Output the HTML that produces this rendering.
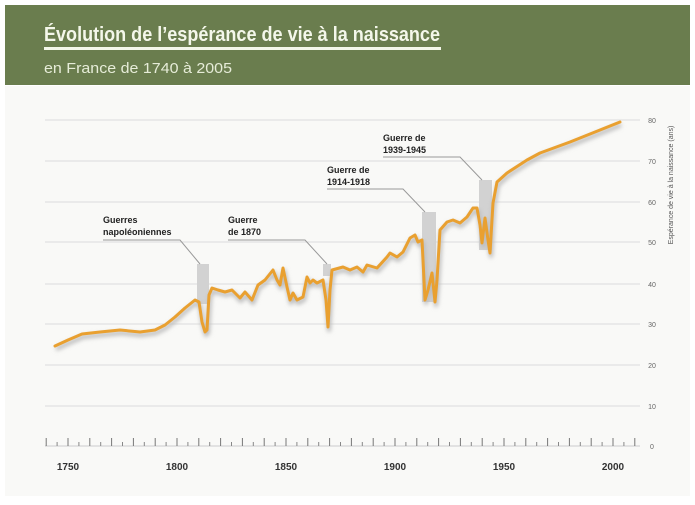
<!DOCTYPE html>
<html><head><meta charset="utf-8"><style>
body{margin:0;background:#fff;width:695px;height:500px;overflow:hidden;font-family:"Liberation Sans",sans-serif}
</style></head><body>
<svg width="695" height="500" xmlns="http://www.w3.org/2000/svg" font-family="Liberation Sans, sans-serif">
<defs><filter id="sh" x="-5%" y="-5%" width="110%" height="120%"><feGaussianBlur stdDeviation="2"/></filter></defs>
<rect x="0" y="0" width="695" height="500" fill="#fff"/>
<rect x="5" y="86" width="685" height="410" fill="#f9f9f7"/>
<rect x="5" y="5" width="685" height="80" fill="#6a7d4e"/>
<text x="44" y="41" font-size="20" font-weight="bold" fill="#f4f7ea" textLength="396" lengthAdjust="spacingAndGlyphs">Évolution de l’espérance de vie à la naissance</text>
<rect x="44" y="47" width="397" height="3" fill="#f4f7ea"/>
<text x="44" y="73" font-size="15" fill="#e6ecd8" textLength="188" lengthAdjust="spacingAndGlyphs">en France de 1740 à 2005</text>
<g stroke="#dcdcdc" stroke-width="1">
<line x1="45" y1="120" x2="640" y2="120"/><line x1="45" y1="161" x2="640" y2="161"/>
<line x1="45" y1="202" x2="640" y2="202"/><line x1="45" y1="242" x2="640" y2="242"/>
<line x1="45" y1="284" x2="640" y2="284"/><line x1="45" y1="324" x2="640" y2="324"/>
<line x1="45" y1="365" x2="640" y2="365"/><line x1="45" y1="406" x2="640" y2="406"/>
</g>
<g font-size="7" fill="#666" text-anchor="middle">
<text x="652" y="123">80</text><text x="652" y="164">70</text><text x="652" y="205">60</text><text x="652" y="245">50</text>
<text x="652" y="287">40</text><text x="652" y="327">30</text><text x="652" y="368">20</text><text x="652" y="409">10</text><text x="652" y="449">0</text>
</g>
<text transform="translate(673,185) rotate(-90)" font-size="7" fill="#555" text-anchor="middle">Espérance de vie à la naissance (ans)</text>
<line x1="45" y1="446" x2="640" y2="446" stroke="#ccc"/>
<line x1="45.7" y1="442" x2="640" y2="442" stroke="#777" stroke-width="8" stroke-dasharray="1 20.8"/>
<line x1="56.6" y1="444" x2="640" y2="444" stroke="#888" stroke-width="4" stroke-dasharray="1 20.8"/>
<g font-size="10" font-weight="bold" fill="#333" text-anchor="middle">
<text x="68" y="470">1750</text><text x="177" y="470">1800</text><text x="286" y="470">1850</text>
<text x="395" y="470">1900</text><text x="504" y="470">1950</text><text x="613" y="470">2000</text>
</g>
<g fill="#d2d2d2">
<rect x="197" y="264" width="12" height="40"/><rect x="323" y="264" width="8" height="12"/>
<rect x="422" y="212" width="14" height="90"/><rect x="479" y="180" width="13" height="70"/>
</g>
<g stroke="#999" fill="none" stroke-width="1">
<polyline points="103,240 180,240 200,264"/><polyline points="228,240 305,240 327,264"/>
<polyline points="327,189 403,189 425,212"/><polyline points="383,157 460,157 482,180"/>
</g>
<g font-size="9" font-weight="bold" fill="#222">
<text x="103" y="223">Guerres</text><text x="103" y="235">napoléoniennes</text>
<text x="228" y="223">Guerre</text><text x="228" y="235">de 1870</text>
<text x="327" y="173">Guerre de</text><text x="327" y="185">1914-1918</text>
<text x="383" y="141">Guerre de</text><text x="383" y="153">1939-1945</text>
</g>
<g id="ln">
<polyline fill="none" stroke="#bbb" stroke-width="4" filter="url(#sh)" transform="translate(1,3)" stroke-linejoin="round"
points="55,346 68,340 82,334 100,332 120,330 140,332 155,330 165,325 175,317 185,308 195,300 199,302 202,322 205,332 207,330 209,295 212,288 218,290 225,292 232,290 240,298 245,292 252,300 258,285 265,280 273,270 277,280 280,285 283,268 287,287 290,300 293,293 297,300 303,297 307,277 310,283 313,280 317,283 323,280 326,300 328,327 330,290 332,270 343,267 350,270 357,267 363,272 367,265 377,268 387,257 390,253 397,257 403,252 410,238 415,235 418,242 422,240 425,300 428,290 432,273 435,302 437,280 440,230 447,222 453,220 460,223 467,217 473,208 477,208 480,225 482,243 485,218 488,240 490,253 493,203 497,182 507,173 527,160 540,153 570,142 600,130 620,122"/>
<polyline fill="none" stroke="#e9a030" stroke-width="3" stroke-linejoin="round" stroke-linecap="round"
points="55,346 68,340 82,334 100,332 120,330 140,332 155,330 165,325 175,317 185,308 195,300 199,302 202,322 205,332 207,330 209,295 212,288 218,290 225,292 232,290 240,298 245,292 252,300 258,285 265,280 273,270 277,280 280,285 283,268 287,287 290,300 293,293 297,300 303,297 307,277 310,283 313,280 317,283 323,280 326,300 328,327 330,290 332,270 343,267 350,270 357,267 363,272 367,265 377,268 387,257 390,253 397,257 403,252 410,238 415,235 418,242 422,240 425,300 428,290 432,273 435,302 437,280 440,230 447,222 453,220 460,223 467,217 473,208 477,208 480,225 482,243 485,218 488,240 490,253 493,203 497,182 507,173 527,160 540,153 570,142 600,130 620,122"/>
</g>
</svg>
</body></html>
